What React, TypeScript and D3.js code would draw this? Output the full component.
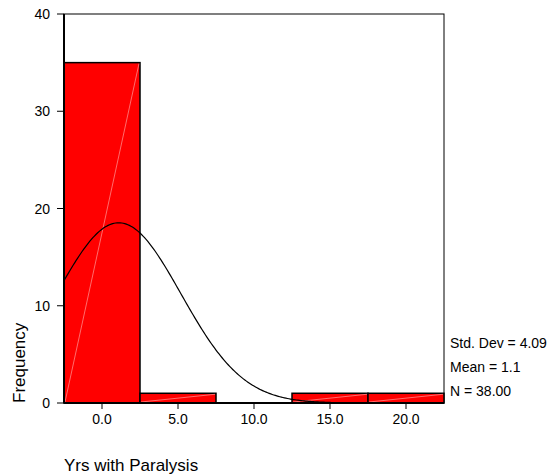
import * as d3 from "d3";

// histogram bins (midpoints) and counts
const binMids = [0, 5, 10, 15, 20];
const binCounts = [35, 1, 0, 1, 1];
const binWidth = 5;
const xTicks = [0, 5, 10, 15, 20];
const yTicks = [0, 10, 20, 30, 40];
const statLines = ["Std. Dev = 4.09", "Mean = 1.1", "N = 38.00"];
const stdDev = 4.09;
const mean = 1.1;
const nCases = 38;

const W = 551;
const H = 476;
const FONT = "Liberation Sans, Arial, sans-serif";

export default function App() {
  const x = d3.scaleLinear().domain([-2.5, 22.5]).range([64, 444]);
  const y = d3.scaleLinear().domain([0, 40]).range([403, 14]);

  const bars = binMids
    .map((m, i) => ({ x0: m - binWidth / 2, x1: m + binWidth / 2, n: binCounts[i] }))
    .filter((b) => b.n > 0);

  // normal curve scaled to the histogram
  const normal = (v: number) =>
    ((nCases * binWidth) / (stdDev * Math.sqrt(2 * Math.PI))) *
    Math.exp(-0.5 * ((v - mean) / stdDev) ** 2);
  const curvePts = d3.range(-2.5, 22.5001, 0.1);
  const line = d3
    .line<number>()
    .x((d) => x(d))
    .y((d) => y(normal(d)));

  return (
    <svg
      width={W}
      height={H}
      style={{ position: "absolute", left: 0, top: 0, background: "#fff" }}
      fontFamily={FONT}
    >
      {/* frame */}
      <rect x={64} y={14} width={380} height={389} fill="none" stroke="#000" strokeWidth={1} />

      {bars.map((b, i) => (
        <g key={i}>
          <rect
            x={x(b.x0)}
            y={y(b.n)}
            width={x(b.x1) - x(b.x0)}
            height={y(0) - y(b.n)}
            fill="#ff0000"
            stroke="#000"
            strokeWidth={1.5}
          />
          <line
            x1={x(b.x0) + 1}
            y1={y(0) - 1}
            x2={x(b.x1) - 1}
            y2={y(b.n) + 1}
            stroke="#ffb3b3"
            strokeWidth={0.6}
          />
        </g>
      ))}

      <path d={line(curvePts) ?? ""} fill="none" stroke="#000" strokeWidth={1.2} />

      {/* axes */}
      <line x1={64} y1={14} x2={64} y2={403} stroke="#000" strokeWidth={2} />
      <line x1={64} y1={403} x2={444} y2={403} stroke="#000" strokeWidth={2} />

      {yTicks.map((t) => (
        <g key={t}>
          <line x1={57} x2={64} y1={y(t)} y2={y(t)} stroke="#000" strokeWidth={1} />
          <text x={50} y={y(t) + 5} textAnchor="end" fontSize={14} fill="#000">
            {t}
          </text>
        </g>
      ))}

      {xTicks.map((t) => (
        <g key={t}>
          <line x1={x(t)} x2={x(t)} y1={403} y2={409} stroke="#000" strokeWidth={1} />
          <text x={x(t)} y={424} textAnchor="middle" fontSize={14} fill="#000">
            {t.toFixed(1)}
          </text>
        </g>
      ))}

      <text
        transform="translate(25,403) rotate(-90)"
        textAnchor="start"
        fontSize={17}
        fill="#000"
      >
        Frequency
      </text>
      <text x={64} y={471} fontSize={17} fill="#000">
        Yrs with Paralysis
      </text>

      {statLines.map((s, i) => (
        <text key={s} x={450} y={348 + i * 24} fontSize={14} fill="#000">
          {s}
        </text>
      ))}
    </svg>
  );
}
